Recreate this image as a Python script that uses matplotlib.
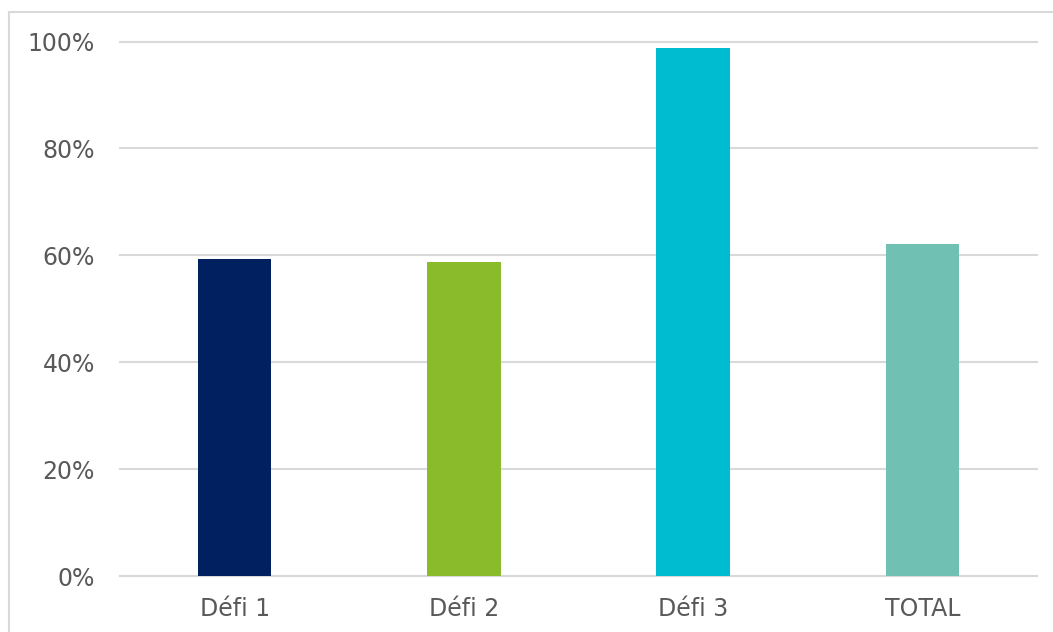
import matplotlib
matplotlib.use("Agg")
import matplotlib.pyplot as plt
from matplotlib.lines import Line2D
from matplotlib.ticker import FuncFormatter

categories = ["Défi 1", "Défi 2", "Défi 3", "TOTAL"]
values = [0.594, 0.587, 0.987, 0.621]
colors = ["#002060", "#8ABB2A", "#00BCD1", "#70C1B3"]
yticks = [0, 0.2, 0.4, 0.6, 0.8, 1.0]

W, H = 1053, 632
fig = plt.figure(figsize=(W / 100, H / 100), dpi=100)
ax = fig.add_axes([120 / W, 1 - 576 / H, (1037 - 120) / W, (576 - 41.5) / H])

x = range(len(categories))
ax.bar(x, values, width=0.32, color=colors, zorder=3)

ax.set_xlim(-0.5, len(categories) - 0.5)
ax.set_ylim(0, 1)
ax.set_yticks(yticks)
ax.yaxis.set_major_formatter(FuncFormatter(lambda v, _: f"{v * 100:.0f}%"))
ax.set_xticks(list(x))
ax.set_xticklabels(categories)

ax.grid(axis="y", color="#D9D9D9", linewidth=1.5, zorder=0)
ax.set_axisbelow(True)
for gl in ax.get_ygridlines():
    gl.set_clip_on(False)
for s in ["top", "right", "left"]:
    ax.spines[s].set_visible(False)
ax.spines["bottom"].set_color("#D9D9D9")
ax.spines["bottom"].set_linewidth(1.5)
ax.tick_params(axis="both", length=0, labelsize=17, labelcolor="#595959")
ax.tick_params(axis="y", pad=18)
ax.tick_params(axis="x", pad=15)

# Chart-area frame
fig.add_artist(Line2D([8.5 / W, 1], [1 - 11.5 / H, 1 - 11.5 / H], color="#D9D9D9", linewidth=1.5,
                      transform=fig.transFigure))
fig.add_artist(Line2D([8.5 / W, 8.5 / W], [0, 1 - 11.5 / H], color="#D9D9D9", linewidth=1.5,
                      transform=fig.transFigure))

fig.savefig("out.png", dpi=100, facecolor="white")
